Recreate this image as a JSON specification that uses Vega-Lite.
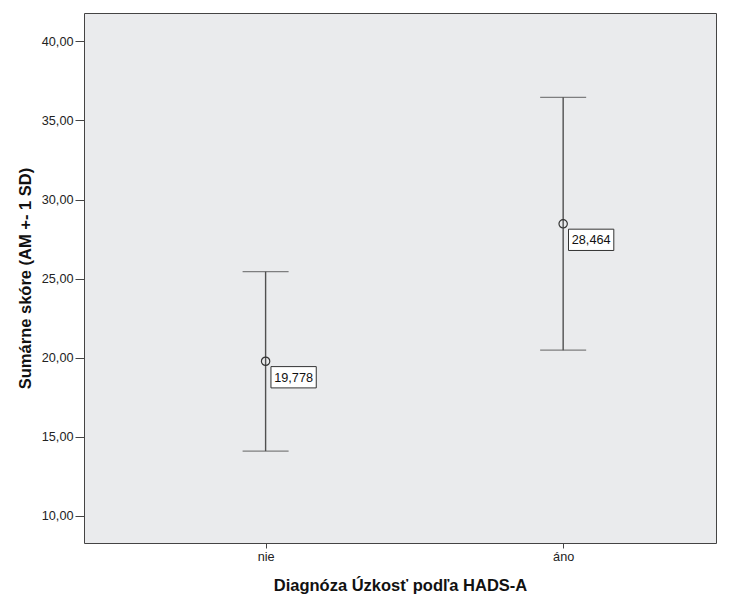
{
  "$schema": "https://vega.github.io/schema/vega-lite/v6.json",
  "width": 632,
  "height": 530,
  "autosize": {"type": "none"},
  "padding": {"left": 84, "top": 13, "right": 14, "bottom": 54},
  "background": "white",
  "config": {
    "view": {"fill": "#EAEBED", "stroke": "#444444", "strokeWidth": 1},
    "font": "Liberation Sans",
    "axis": {"grid": false, "domain": false, "tickColor": "#444444", "tickSize": 6, "labelColor": "#222222", "labelFontSize": 12.7, "titleFontSize": 16.5, "titleFontWeight": "bold", "titleColor": "#111111", "labelFont": "Liberation Sans", "titleFont": "Liberation Sans"}
  },
  "data": {
    "values": [
      {"diag": "nie", "mean": 19.778, "low": 14.1, "high": 25.44, "label": "19,778"},
      {"diag": "áno", "mean": 28.464, "low": 20.48, "high": 36.46, "label": "28,464"}
    ]
  },
  "encoding": {
    "x": {
      "field": "diag", "type": "nominal", "sort": ["nie", "áno"],
      "scale": {"type": "point", "padding": 0.562, "align": 0.543},
      "axis": {"title": "Diagnóza Úzkosť podľa HADS-A", "labelAngle": 0, "tickSize": 5, "labelPadding": 2, "titlePadding": 15}
    }
  },
  "layer": [
    {
      "mark": {"type": "rule", "color": "#505050", "strokeWidth": 1.4},
      "encoding": {
        "y": {
          "field": "low", "type": "quantitative",
          "scale": {"domain": [8.29, 41.79], "nice": false, "zero": false},
          "axis": {"title": "Sumárne skóre (AM +- 1 SD)", "values": [10, 15, 20, 25, 30, 35, 40], "labelExpr": "replace(format(datum.value, '.2f'), '.', ',')", "tickSize": 9, "labelPadding": 2, "titlePadding": 8}
        },
        "y2": {"field": "high"}
      }
    },
    {
      "mark": {"type": "tick", "color": "#505050", "size": 46, "thickness": 1.4, "orient": "horizontal"},
      "encoding": {"y": {"field": "low", "type": "quantitative"}}
    },
    {
      "mark": {"type": "tick", "color": "#505050", "size": 46, "thickness": 1.4, "orient": "horizontal"},
      "encoding": {"y": {"field": "high", "type": "quantitative"}}
    },
    {
      "mark": {"type": "point", "shape": "circle", "filled": false, "size": 70, "stroke": "#333333", "strokeWidth": 1.2, "opacity": 1},
      "encoding": {"y": {"field": "mean", "type": "quantitative"}}
    },
    {
      "mark": {"type": "point", "shape": "M-1,-0.47H1V0.47H-1Z", "filled": true, "size": 2052, "fill": "white", "stroke": "#333333", "strokeWidth": 1, "opacity": 1, "fillOpacity": 1, "xOffset": 28, "yOffset": 16},
      "encoding": {"y": {"field": "mean", "type": "quantitative"}}
    },
    {
      "mark": {"type": "text", "align": "center", "baseline": "middle", "fontSize": 12.7, "color": "#111111", "xOffset": 28, "yOffset": 16.5},
      "encoding": {"y": {"field": "mean", "type": "quantitative"}, "text": {"field": "label"}}
    }
  ]
}
